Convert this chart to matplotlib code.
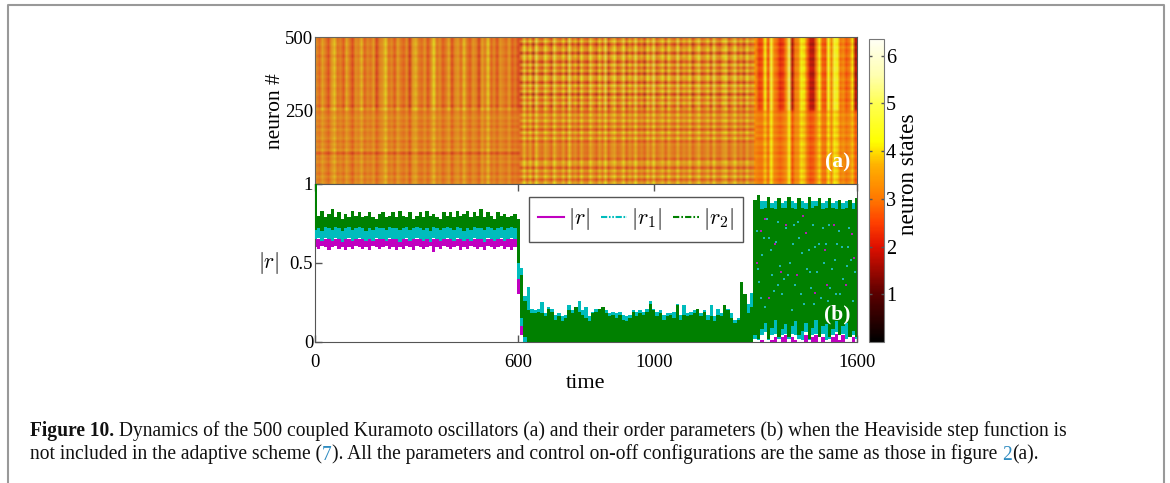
"""Kuramoto raster and order parameters, with the caption of the page."""
import matplotlib
matplotlib.use("Agg")
import matplotlib.pyplot as plt
import numpy as np
from matplotlib.colors import LinearSegmentedColormap
from matplotlib.lines import Line2D

W, H = 1170, 483

# --- raster (a): stripes read per column (upper / lower half of the neurons) ---
cols_a_upper = [3.2, 2.8, 3.6, 3.0, 2.5, 3.4, 3.9, 2.9, 3.1, 2.6,
                3.7, 3.0, 2.4, 3.3, 3.1, 3.8, 2.7, 3.2, 2.9, 3.5,
                2.3, 3.1, 3.4, 4.0, 2.9, 3.2, 2.6, 3.6, 3.0, 2.7,
                3.3, 2.2, 3.5, 3.8, 3.0, 2.8, 3.4, 2.5, 3.2, 4.1,
                2.9, 3.3, 2.6, 3.0, 3.7, 2.4, 3.2, 3.5, 2.8, 3.9,
                3.0, 2.6, 3.4, 3.1, 2.3, 3.6, 3.0, 4.0, 2.7, 3.2,
                2.5, 3.4, 3.1, 2.8, 3.5, 2.6, 3.0, 2.4]
cols_a_lower = [3.2, 3.0, 3.5, 3.1, 2.8, 3.3, 3.7, 3.0, 3.2, 2.9,
                3.5, 3.1, 2.7, 3.3, 3.1, 3.6, 2.9, 3.2, 3.0, 3.4,
                2.7, 3.1, 3.3, 3.8, 3.0, 3.2, 2.8, 3.5, 3.1, 2.9,
                3.3, 2.6, 3.4, 3.6, 3.0, 2.9, 3.3, 2.8, 3.2, 3.8,
                3.0, 3.3, 2.8, 3.1, 3.5, 2.7, 3.2, 3.4, 2.9, 3.7,
                3.1, 2.8, 3.3, 3.1, 2.7, 3.5, 3.0, 3.8, 2.9, 3.2,
                2.8, 3.3, 3.1, 2.9, 3.4, 2.8, 3.0, 2.8]
cols_b_upper = [2.6, 4.0, 2.8, 3.7, 2.4, 4.2, 3.0, 2.7, 3.9, 3.2,
                2.5, 4.1, 3.1, 2.8, 3.6, 2.6, 4.3, 2.9, 3.4, 2.5,
                3.8, 3.0, 2.7, 4.0, 3.2, 2.6, 3.7, 2.9, 4.2, 2.5,
                3.3, 3.9, 2.7, 3.1, 4.0, 2.6, 3.5, 2.9, 4.1, 2.8,
                3.3, 2.5, 3.8, 3.0, 4.2, 2.7, 3.2, 3.7, 2.6, 3.9,
                3.1, 2.8, 4.1, 2.7, 3.4, 3.0, 3.8, 2.5, 3.3, 4.0,
                2.8, 3.1, 3.7, 2.6, 4.1, 3.0, 2.7, 3.5, 3.9, 2.6,
                3.2, 4.0, 2.8, 3.4, 2.6, 3.8, 3.0, 3.3]
cols_b_lower = [2.9, 3.8, 2.9, 3.6, 2.7, 3.9, 3.1, 2.9, 3.6, 3.2,
                2.8, 3.8, 3.1, 2.9, 3.5, 2.8, 3.9, 3.0, 3.3, 2.8,
                3.6, 3.0, 2.9, 3.7, 3.2, 2.8, 3.5, 3.0, 3.8, 2.8,
                3.3, 3.6, 2.9, 3.1, 3.7, 2.8, 3.4, 3.0, 3.8, 2.9,
                3.2, 2.8, 3.6, 3.0, 3.8, 2.9, 3.2, 3.5, 2.8, 3.6,
                3.1, 2.9, 3.7, 2.9, 3.3, 3.0, 3.6, 2.8, 3.2, 3.7,
                2.9, 3.1, 3.5, 2.8, 3.7, 3.0, 2.9, 3.4, 3.6, 2.8,
                3.2, 3.7, 2.9, 3.3, 2.8, 3.6, 3.0, 3.2]
cols_c_upper = [3.2, 2.4, 2.6, 4.2, 2.6, 4.6, 3.2, 2.8, 2.2, 2.4,
                3.3, 5.0, 1.7, 3.0, 3.2, 4.2, 4.0, 2.8, 1.8, 1.7,
                3.0, 4.2, 2.8, 2.6, 4.4, 3.2, 4.6, 4.3, 3.0, 3.2,
                2.7, 3.0, 4.0, 1.7]
cols_c_lower = [3.2, 3.0, 3.0, 3.8, 2.9, 4.2, 3.2, 3.0, 2.8, 3.0,
                3.3, 4.3, 2.6, 3.2, 3.3, 4.0, 3.8, 3.0, 2.6, 2.7,
                3.2, 3.9, 3.0, 2.9, 4.0, 3.2, 4.1, 3.9, 3.1, 3.3,
                3.0, 3.2, 3.7, 2.7]

# horizontal banding per section, neuron 1 at the start, ten neurons per value
rows_a = [0.1, -0.1, 0.2, -0.2, 0.1, 0.0, -0.2, 0.2, -0.1, 0.1,
          -0.6, 0.3, -0.1, 0.1, -0.2, 0.2, 0.0, -0.1, 0.2, -0.2,
          0.1, -0.1, 0.2, 0.0, -0.2, 0.4, -0.3, 0.1, 0.0, -0.1,
          0.1, 0.0, -0.1, 0.1, 0.0, -0.1, 0.1, -0.1, 0.0, 0.1,
          -0.1, 0.0, 0.1, -0.2, 0.1, 0.0, -0.1, 0.1, 0.0, -0.1]
rows_b = [0.4, -0.5, 0.6, -0.3, 0.5, -0.6, 0.3, 0.5, -0.5, 0.1,
          -0.1, 0.0, -0.1, 0.1, -0.5, 0.5, -0.3, 0.6, -0.6, 0.4,
          -0.4, 0.6, -0.2, 0.5, -0.5, 0.3, -0.6, 0.7, -0.3, 0.5,
          -0.8, 0.6, -0.2, 0.7, -0.7, 0.4, 0.6, -0.8, 0.5, -0.4,
          0.7, -0.7, 0.3, 0.6, -0.8, 0.5, 0.2, -0.7, 0.6, -0.3]
rows_c = [0.1, -0.2, 0.2, -0.1, 0.2, -0.2, 0.1, 0.0, -0.1, 0.2,
          -0.2, 0.1, -0.1, 0.2, 0.0, -0.2, 0.2, -0.1, 0.1, -0.2,
          0.2, 0.0, -0.1, 0.2, -0.2, 0.1, -0.1, 0.2, -0.2, 0.1,
          0.0, 0.2, -0.2, 0.1, -0.1, 0.2, 0.0, -0.2, 0.1, 0.2,
          -0.1, 0.1, -0.2, 0.2, 0.0, -0.1, 0.2, -0.2, 0.1, 0.0]

# --- order parameters (b): band read every 10 time units ---
r2_top = [1.00, .80, .83, .79, .81, .84, .79, .82, .78, .81,
          .79, .83, .80, .82, .79, .80, .82, .79, .78, .81,
          .82, .79, .80, .82, .79, .83, .80, .79, .82, .78,
          .80, .82, .79, .83, .80, .81, .79, .78, .82, .80,
          .82, .79, .83, .80, .81, .83, .79, .82, .80, .84,
          .79, .82, .80, .78, .82, .80, .81, .79, .80, .81,
          .78, .42, .26, .20, .18, .18, .19, .18, .16, .21,
          .19, .14, .16, .13, .15, .20, .18, .22, .19, .17,
          .15, .13, .18, .19, .21, .22, .18, .16, .17, .15,
          .17, .14, .13, .15, .19, .16, .18, .17, .19, .24,
          .20, .16, .18, .14, .16, .17, .15, .23, .14, .17,
          .16, .17, .18, .21, .16, .19, .14, .16, .13, .17,
          .16, .23, .20, .15, .12, .14, .38, .30, .18, .22,
          .90, .93, .84, .85, .92, .85, .84, .91, .85, .85,
          .92, .85, .84, .91, .85, .84, .92, .85, .86, .91,
          .84, .85, .91, .85, .84, .90, .84, .85, .90, .84, .91]
r2_bot = [.71, .72, .70, .73, .72, .71, .73, .72, .70, .72,
          .73, .71, .72, .73, .72, .70, .72, .71, .73, .72,
          .72, .71, .73, .72, .72, .71, .72, .73, .71, .72,
          .73, .72, .71, .72, .70, .73, .72, .71, .72, .73,
          .72, .71, .73, .72, .70, .72, .71, .73, .72, .72,
          .71, .73, .72, .71, .72, .73, .71, .72, .73, .72,
          .50, .15, .03] + [.0] * 67 + [
          .04, .02, .08, .12, .02, .09, .14, .03, .08, .11,
          .03, .10, .13, .04, .07, .12, .02, .09, .14, .03,
          .10, .11, .03, .08, .13, .04, .10, .12, .03, .07, .03]
r1_top = [.75] * 60 + [
          .76, .47, .29, .35, .21, .20, .21, .25, .18, .22,
          .21, .17, .18, .16, .17, .23, .20, .22, .26, .20,
          .22, .16, .19, .21, .21, .22, .20, .18, .19, .18,
          .19, .17, .16, .17, .20, .19, .20, .19, .21, .26,
          .21, .19, .20, .17, .18, .18, .19, .24, .17, .23,
          .18, .19, .20, .21, .18, .20, .17, .23, .16, .21,
          .18, .23, .21, .18, .14, .15, .28, .10, .24, .31,
          .89, .90, .89, .89, .90, .88, .89, .90, .88, .89,
          .90, .89, .88, .90, .89, .88, .90, .89, .89, .90,
          .88, .89, .90, .88, .89, .90, .88, .89, .90, .88, .90]
r1_bot = [.65, .66, .64, .66, .65, .64, .66, .65, .63, .65,
          .66, .64, .65, .66, .65, .64, .65, .64, .66, .65,
          .65, .64, .66, .65, .65, .63, .65, .66, .64, .65,
          .66, .65, .64, .65, .63, .66, .65, .64, .65, .66,
          .65, .64, .66, .65, .64, .65, .64, .66, .65, .65,
          .63, .66, .65, .64, .65, .66, .64, .65, .66, .65,
          .40, .10] + [.0] * 68 + [
          .02, .01, .04, .06, .01, .04, .05, .02, .04, .05,
          .02, .05, .04, .02, .01, .06, .01, .04, .05, .03,
          .05, .01, .02, .04, .06, .04, .05, .02, .03, .04, .02]
r_top = [.65] * 60 + [.58, .25, .06, .01] + [.0] * 66 + [
          .0, .0, .01, .0, .0, .01, .03, .0, .03, .04,
          .0, .03, .01, .0, .0, .04, .0, .03, .04, .0,
          .03, .0, .0, .03, .05, .01, .04, .0, .0, .03, .0]
r_bot = [.60, .59, .61, .60, .58, .60, .61, .59, .60, .58,
         .60, .59, .61, .60, .59, .60, .58, .61, .60, .59,
         .60, .61, .59, .60, .58, .60, .59, .61, .60, .58,
         .61, .60, .59, .60, .61, .57, .60, .59, .61, .60,
         .59, .60, .61, .58, .60, .59, .61, .60, .59, .60,
         .58, .61, .60, .59, .60, .61, .59, .60, .58, .60,
         .30, .04] + [.0] * 99

# points of r1 and r seen through the green band after t = 1300
speck_r1_t = [1305, 1320, 1335, 1350, 1362, 1378, 1390, 1402, 1418, 1430,
              1445, 1458, 1470, 1482, 1495, 1510, 1522, 1535, 1548, 1560,
              1575, 1590, 1312, 1342, 1372, 1408, 1438, 1466, 1500, 1528,
              1556, 1584, 1328, 1356, 1396, 1426, 1452, 1488, 1516, 1570,
              1308, 1326, 1346, 1368, 1384, 1412, 1434, 1462, 1476, 1504,
              1518, 1542, 1552, 1578, 1594, 1316, 1366, 1414, 1474, 1538]
speck_r1_v = [.70, .55, .78, .42, .63, .30, .72, .50, .36, .66,
              .24, .58, .74, .44, .28, .62, .34, .52, .70, .40,
              .60, .26, .38, .66, .48, .20, .56, .34, .72, .46,
              .60, .52, .22, .32, .42, .76, .46, .62, .26, .48,
              .46, .66, .58, .76, .40, .62, .30, .44, .60, .50,
              .74, .62, .30, .72, .44, .28, .36, .74, .24, .30]
speck_r_t = [1304, 1330, 1358, 1392, 1424, 1450, 1478, 1506, 1534, 1568, 1592, 1342,
             1318, 1376, 1440, 1512, 1586]
speck_r_v = [.50, .78, .62, .74, .42, .69, .31, .58, .74, .36, .53, .28,
             .70, .44, .80, .36, .68]

# --- axis and legend text ---
raster_ticks = [1, 250, 500]
raster_labels = ["1", "250", "500"]
order_ticks = [0, 0.5, 1]
order_labels = ["0", "0.5", ""]
time_ticks = [0, 600, 1000, 1600]
cbar_ticks = [1, 2, 3, 4, 5, 6]
legend_labels = [r"$|r|$", r"$|r_1|$", r"$|r_2|$"]

# state value and colour along the colour bar
cmap_stops = [0, 1, 2, 2.5, 3, 3.7, 4.2, 5.0, 5.6, 6.35]
cmap_colors = ["#000000", "#5a0000", "#e01000", "#ff4000", "#ff7800",
               "#ffb000", "#ffff00", "#ffff50", "#ffffb0", "#fffff5"]

caption_1 = [("Figure 10.", "bold", "#111111"),
             (" Dynamics of the 500 coupled Kuramoto oscillators (a) and their order "
              "parameters (b) when the Heaviside step function is", "normal", "#111111")]
caption_2 = [("not included in the adaptive scheme (", "normal", "#111111"),
             ("7", "normal", "#2e8bc0"),
             ("). All the parameters and control on-off configurations are the same "
              "as those in figure ", "normal", "#111111"),
             ("2", "normal", "#2e8bc0"),
             ("(a).", "normal", "#111111")]

plt.rcParams["font.family"] = ["Liberation Serif", "DejaVu Serif"]
plt.rcParams["mathtext.fontset"] = "cm"
EDGE = "#555555"


def px_axes(fig, left, top, right, bottom):
    return fig.add_axes([left / W, 1 - bottom / H, (right - left) / W, (bottom - top) / H])


def build_raster():
    upper = cols_a_upper + cols_b_upper + cols_c_upper
    lower = cols_a_lower + cols_b_lower + cols_c_lower
    rows = np.array([rows_a] * len(cols_a_upper) + [rows_b] * len(cols_b_upper)
                    + [rows_c] * len(cols_c_upper)).T
    base = np.vstack([np.tile(lower, (25, 1)), np.tile(upper, (25, 1))])
    return base + rows


def draw_caption(fig, runs, y, size):
    renderer = fig.canvas.get_renderer()
    x = 30.0
    for text, weight, color in runs:
        t = fig.text(x / W, 1 - y / H, text, fontsize=size, fontweight=weight, color=color,
                     va="baseline", ha="left")
        # trailing blanks are not measured, so take the width with a closing bar
        t.set_text(text + "|")
        with_bar = t.get_window_extent(renderer).width
        t.set_text("|")
        bar = t.get_window_extent(renderer).width
        t.set_text(text)
        x += with_bar - bar


fig = plt.figure(figsize=(W / 100, H / 100), dpi=100)

# page frame
frame_x = [8 / W, 8 / W, 1164 / W, 1164 / W]
frame_y = [0, 1 - 4.5 / H, 1 - 4.5 / H, 0]
fig.add_artist(Line2D(frame_x, frame_y, color="#999999", lw=1.5, transform=fig.transFigure))

cmap = LinearSegmentedColormap.from_list(
    "states", [(s / cmap_stops[-1], c) for s, c in zip(cmap_stops, cmap_colors)])

# (a) raster
ax_top = px_axes(fig, 315.3, 37.3, 856.7, 184)
im = ax_top.imshow(build_raster(), origin="lower", aspect="auto", cmap=cmap, vmin=0,
                   vmax=cmap_stops[-1], extent=(0, 1600, 1, 500),
                   interpolation="bilinear", interpolation_stage="rgba")
# the scan is duller than the colour bar: grey veil, lighter over the last section
ax_top.axvspan(0, 1296, color="#9a8a70", alpha=0.3, lw=0, zorder=3)
ax_top.axvspan(1296, 1600, color="#9a8a70", alpha=0.12, lw=0, zorder=3)
ax_top.set_xticks([])
ax_top.set_yticks(raster_ticks)
ax_top.set_yticklabels(raster_labels, fontsize=13.5)
ax_top.tick_params(axis="y", length=0, pad=1.5)
ax_top.set_ylabel("neuron #", fontsize=15.5, labelpad=0)
ax_top.text(1582, 75, "(a)", color="white", fontsize=15.5, fontweight="bold",
            ha="right", va="center", zorder=6)
for spine in ax_top.spines.values():
    spine.set_color(EDGE)

# (b) order parameters
ax_low = px_axes(fig, 315.3, 184, 856.7, 341.7)
t = np.arange(len(r2_top)) * 10
ax_low.fill_between(t, r_bot, r_top, step="mid", color="#c000c0", lw=0, zorder=2)
ax_low.fill_between(t, r1_bot, r1_top, step="mid", color="#00bcbc", lw=0, zorder=3)
ax_low.fill_between(t, r2_bot, r2_top, step="mid", color="#008000", lw=0, zorder=4)
ax_low.scatter(speck_r1_t, speck_r1_v, s=4, marker="s", color="#20b8b0", lw=0, zorder=5)
ax_low.scatter(speck_r_t, speck_r_v, s=4, marker="s", color="#b020b0", lw=0, zorder=5)
ax_low.set_xlim(0, 1600)
ax_low.set_ylim(0, 1)
ax_low.set_xticks(time_ticks)
ax_low.set_xticklabels(time_ticks, fontsize=13.5)
ax_low.set_yticks(order_ticks)
ax_low.set_yticklabels(order_labels, fontsize=13.5)
ax_low.tick_params(direction="in", length=5, width=1, color=EDGE, pad=9, top=True)
ax_low.tick_params(axis="y", pad=1.5)
ax_low.set_xlabel("time", fontsize=16, labelpad=2)
ax_low.text(-137, 0.5, r"$|r|$", fontsize=15.5, ha="center", va="center")
ax_low.text(1582, 0.17, "(b)", color="white", fontsize=15.5, fontweight="bold",
            ha="right", va="center", zorder=6)
for spine in ax_low.spines.values():
    spine.set_color(EDGE)

handles = [Line2D([], [], color="#c000c0", lw=1.5),
           Line2D([], [], color="#00bcbc", lw=1.5, ls=(0, (3, 0.8, 0.8, 0.8, 0.8, 0.8))),
           Line2D([], [], color="#008000", lw=1.5, ls=(0, (3, 1, 0.8, 1)))]
leg = ax_low.legend(handles, legend_labels, ncol=3, fontsize=16, loc="upper left",
                    bbox_to_anchor=((529 - 315.3) / 541.4, (341.7 - 197) / 157.7),
                    borderaxespad=0, fancybox=False, framealpha=1, edgecolor=EDGE,
                    handlelength=1.15, handletextpad=0.2, columnspacing=0.5,
                    borderpad=0.42)
leg.set_zorder(8)
leg.get_frame().set_linewidth(1)

# colour bar
cax = px_axes(fig, 869, 39, 884, 342)
cbar = fig.colorbar(im, cax=cax)
cbar.set_ticks(cbar_ticks)
cbar.ax.tick_params(direction="in", length=2.5, width=1, color=EDGE, labelsize=14.5,
                    pad=1.5, left=True, right=True)
cbar.set_label("neuron states", fontsize=16.7, labelpad=1, y=0.554)
cbar.outline.set_edgecolor("#777777")

fig.canvas.draw()
draw_caption(fig, caption_1, 436, 14.08)
draw_caption(fig, caption_2, 459.5, 14.08)

fig.savefig("out.png", dpi=100)
